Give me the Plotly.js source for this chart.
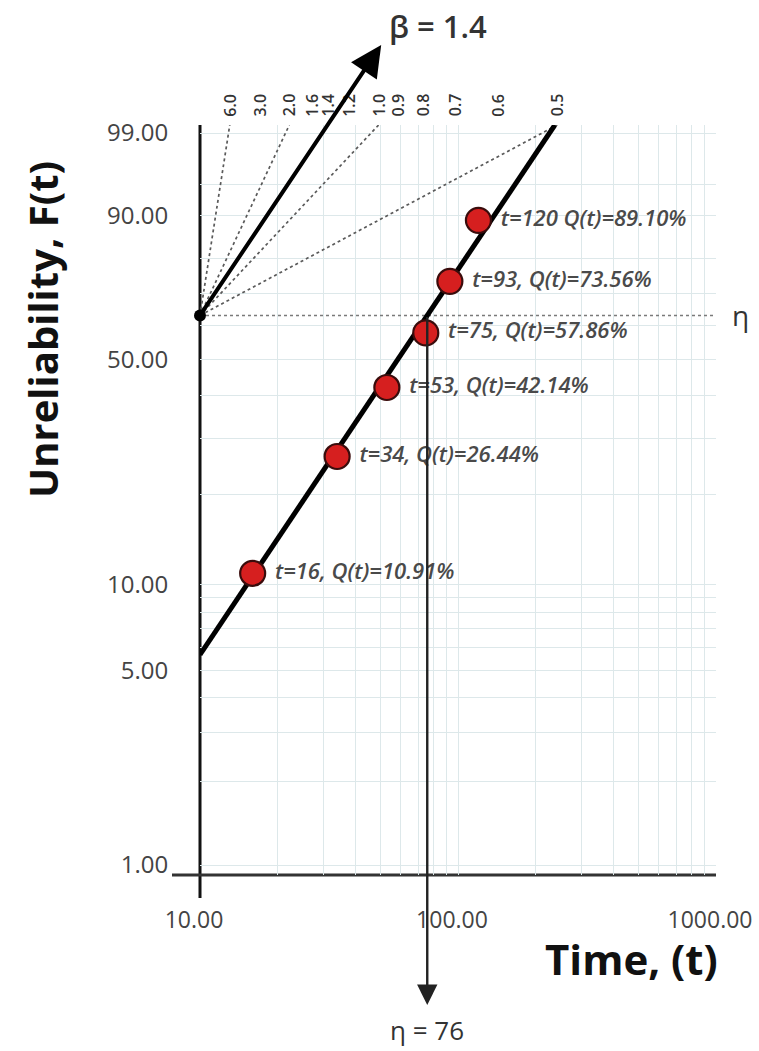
<!DOCTYPE html>
<html>
<head>
<meta charset="utf-8">
<script src="https://cdn.plot.ly/plotly-3.0.1.min.js"></script>
<style>html,body{margin:0;padding:0;background:#fff;}</style>
</head>
<body>
<div id="chart" style="width:759px;height:1051px;"></div>
<script>
// ---------- data ----------
const times = [16, 34, 53, 75, 93, 120];
const unreliabilityPct = [10.91, 26.44, 42.14, 57.86, 73.56, 89.10];
const pointLabels = ["t=16, Q(t)=10.91%", "t=34, Q(t)=26.44%", "t=53, Q(t)=42.14%",
                     "t=75, Q(t)=57.86%", "t=93, Q(t)=73.56%", "t=120 Q(t)=89.10%"];
const betaFit = 1.4;
const etaFit = 76;
const poleTime = 10;
const betaScale = [6.0, 3.0, 2.0, 1.6, 1.4, 1.2, 1.0, 0.9, 0.8, 0.7, 0.6, 0.5];
const betaScaleText = ["6.0","3.0","2.0","1.6","1.4","1.2","1.0","0.9","0.8","0.7","0.6","0.5"];
const betaGuideLines = [6.0, 2.0, 1.0, 0.5];
const yTickPct = [1, 5, 10, 50, 90, 99];
const yTickText = ["1.00", "5.00", "10.00", "50.00", "90.00", "99.00"];
const yGridPct = [2, 3, 4, 6, 7, 8, 9, 20, 30, 40, 60, 70, 80, 95];
const xTickVals = [10, 100, 1000];
const xTickText = ["10.00", "100.00", "1000.00"];
const xGridVals = [20, 30, 40, 50, 60, 70, 80, 90, 200, 300, 400, 500, 600, 700, 800, 900];

// ---------- Weibull probability scale ----------
const wb = p => Math.log(-Math.log(1 - p / 100));

// ---------- geometry ----------
const W = 759, H = 1051;
const M = {l: 200, r: 43, t: 125, b: 176};
const plotW = W - M.l - M.r, plotH = H - M.t - M.b;
const w99 = wb(99), w1 = wb(1);
const pxPerW = (plotH - 18) / (w99 - w1);
const yMax = w99 + 8 / pxPerW;
const yMin = w1 - 10 / pxPerW;
const paperY = pix => (H - M.b - pix) / plotH;          // pixel row -> paper y
const wAtPix = pix => yMin + (H - M.b - pix) / pxPerW;   // pixel row -> weibull value
const wPole = 0; // 63.2% unreliability

const FONT = "Open Sans, Liberation Sans, sans-serif";
const GRID = "#dde8ea";

// ---------- traces ----------
const traces = [];

// beta scale guide lines from the pole
betaGuideLines.forEach(b => {
  const tEnd = poleTime * Math.exp((yMax - wPole) / b);
  traces.push({x: [poleTime, tEnd], y: [wPole, yMax], mode: "lines",
    line: {color: "#5a5a5a", width: 1.7, dash: "dot"}, hoverinfo: "skip", showlegend: false});
});

// eta horizontal line (63.2%)
traces.push({x: [poleTime, 1000], y: [wPole, wPole], mode: "lines",
  line: {color: "#7a7a7a", width: 1.6, dash: "dot"}, hoverinfo: "skip", showlegend: false});

// fitted Weibull line
const tFitStart = 10;
const tFitEnd = etaFit * Math.exp(yMax / betaFit);
traces.push({x: [tFitStart, tFitEnd],
  y: [betaFit * Math.log(tFitStart / etaFit), betaFit * Math.log(tFitEnd / etaFit)],
  mode: "lines", line: {color: "#000", width: 5}, hoverinfo: "skip", showlegend: false});

// pole dot
traces.push({x: [poleTime], y: [wPole], mode: "markers", cliponaxis: false,
  marker: {color: "#000", size: 12}, hoverinfo: "skip", showlegend: false});

// data points
traces.push({x: times, y: unreliabilityPct.map(wb), mode: "markers+text",
  text: pointLabels.map(s => "\u00a0" + s), textposition: "middle right", cliponaxis: false,
  textfont: {family: FONT, size: 22, color: "#4a4a4a", style: "italic", weight: 600},
  marker: {color: "#d61f1f", size: 25, line: {color: "#3a0c0c", width: 2.2}},
  hoverinfo: "skip", showlegend: false});

// ---------- annotations ----------
const ann = [];
// beta scale labels at top
betaScale.forEach((b, i) => {
  const t = poleTime * Math.exp((yMax - wPole) / b);
  ann.push({xref: "x", yref: "paper", x: Math.log10(t), y: paperY(105),
    text: betaScaleText[i], textangle: -90, showarrow: false, xanchor: "center", yanchor: "middle",
    font: {family: FONT, size: 16, color: "#333", weight: 600}});
});
// beta = 1.4 arrow
const wHead = wAtPix(45);
const tHead = poleTime * Math.exp((wHead - wPole) / betaFit);
ann.push({xref: "x", yref: "y", x: Math.log10(tHead), y: wHead,
  axref: "x", ayref: "y", ax: Math.log10(poleTime), ay: wPole,
  showarrow: true, arrowhead: 2, arrowsize: 1.55, arrowwidth: 4, arrowcolor: "#000", text: "", standoff: 0});
ann.push({xref: "x", yref: "paper", x: Math.log10(tHead), y: paperY(26), xshift: 6,
  text: "\u03b2 = " + betaFit.toFixed(1), showarrow: false, xanchor: "left", yanchor: "middle",
  font: {family: FONT, size: 31, color: "#333", weight: 600}});
// eta vertical arrow
const wEtaTip = wAtPix(1005);
ann.push({xref: "x", yref: "y", x: Math.log10(etaFit), y: wEtaTip,
  axref: "x", ayref: "y", ax: Math.log10(etaFit), ay: wPole,
  showarrow: true, arrowhead: 2, arrowsize: 1.7, arrowwidth: 2.4, arrowcolor: "#222", text: "", standoff: 0});
ann.push({xref: "x", yref: "paper", x: Math.log10(etaFit), y: paperY(1030),
  text: "\u03b7 = " + etaFit, showarrow: false, xanchor: "center", yanchor: "middle",
  font: {family: FONT, size: 26, color: "#333"}});
// eta label on the right
ann.push({xref: "paper", yref: "y", x: 1, y: wPole, xshift: 24,
  text: "\u03b7", showarrow: false, xanchor: "center", yanchor: "middle",
  font: {family: FONT, size: 28, color: "#333"}});
// axis titles
ann.push({xref: "paper", yref: "paper", x: (42 - M.l) / plotW, y: paperY(330),
  text: "<b>Unreliability, F(t)</b>", textangle: -90, showarrow: false,
  xanchor: "center", yanchor: "middle", font: {family: FONT, size: 40, color: "#111"}});
ann.push({xref: "paper", yref: "paper", x: (720 - M.l) / plotW, y: paperY(958),
  text: "<b>Time, (t)</b>", showarrow: false, xanchor: "right", yanchor: "middle",
  font: {family: FONT, size: 42, color: "#111"}});

// ---------- axis lines (extended crosshair style) ----------
const shapes = [
  {type: "line", xref: "paper", yref: "paper", x0: 0, x1: 0, y0: -23 / plotH, y1: 1,
   line: {color: "#111", width: 3}, layer: "between"},
  {type: "line", xref: "paper", yref: "paper", x0: -28 / plotW, x1: 1, y0: 0, y1: 0,
   line: {color: "#333", width: 3}, layer: "between"}
];

const layout = {
  width: W, height: H, margin: M,
  paper_bgcolor: "#fff", plot_bgcolor: "#fff",
  showlegend: false,
  font: {family: FONT},
  xaxis: {type: "log", range: [1, 3], tickvals: xTickVals, ticktext: xTickText,
    tickfont: {family: FONT, size: 23, color: "#444"}, ticklabeloverflow: "allow",
    ticklabelshift: -6,
    ticks: "outside", ticklen: 24, tickcolor: "rgba(0,0,0,0)",
    showgrid: true, gridcolor: GRID, gridwidth: 1, zeroline: false, showline: false,
    minor: {tickvals: xGridVals, showgrid: true, gridcolor: GRID, gridwidth: 1, ticks: ""}},
  yaxis: {range: [yMin, yMax], tickvals: yTickPct.map(wb), ticktext: yTickText,
    tickfont: {family: FONT, size: 24, color: "#444"},
    ticks: "outside", ticklen: 26, tickcolor: "rgba(0,0,0,0)",
    showgrid: true, gridcolor: GRID, gridwidth: 1, zeroline: false, showline: false,
    minor: {tickvals: yGridPct.map(wb), showgrid: true, gridcolor: GRID, gridwidth: 1, ticks: ""}},
  annotations: ann,
  shapes: shapes
};

Plotly.newPlot("chart", traces, layout, {staticPlot: true, displayModeBar: false});
</script>
</body>
</html>
